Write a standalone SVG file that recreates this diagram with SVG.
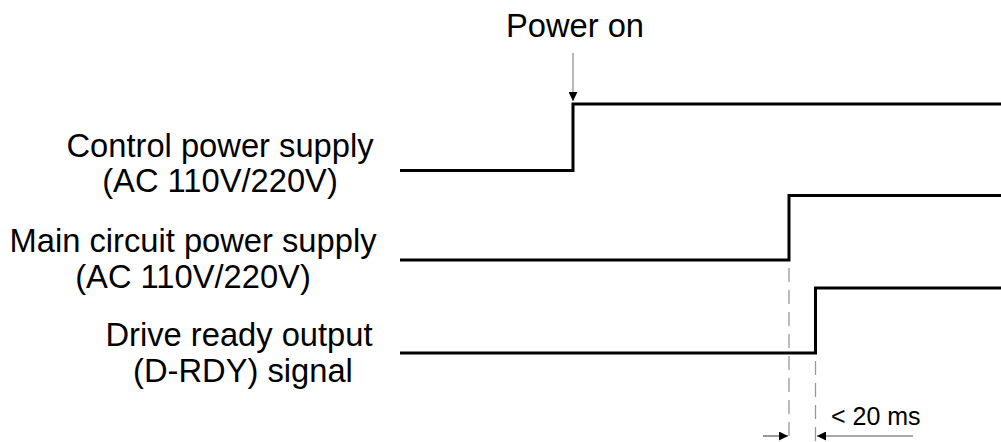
<svg xmlns="http://www.w3.org/2000/svg" width="1001" height="442" viewBox="0 0 1001 442">
<style>
.lbl{font-family:"Liberation Sans",Arial,sans-serif;font-size:32.7px;fill:#000;text-anchor:middle}
.sig{fill:none;stroke:#000;stroke-width:3;stroke-linejoin:miter}
.dash{stroke:#999;stroke-width:1.3;stroke-dasharray:14,8;fill:none}
.thin{stroke:#555;stroke-width:1.2;fill:none}
.small{font-family:"Liberation Sans",Arial,sans-serif;font-size:25px;fill:#000}
</style>
<defs>
<marker id="ah" viewBox="0 0 10 10" refX="10" refY="5" markerWidth="12" markerHeight="9" markerUnits="userSpaceOnUse" orient="auto">
<path d="M0,0 L10,5 L0,10 Z" fill="#000"/>
</marker>
</defs>
<rect width="1001" height="442" fill="#fff"/>
<g id="power-on">
<text class="lbl" x="575" y="37">Power on</text>
</g>
<g id="control-power">
<text class="lbl" x="220" y="157">Control power supply</text>
<text class="lbl" x="220" y="192">(AC 110V/220V)</text>
<path class="sig" d="M400,170.5 H573 V104 H1001"/>
</g>
<g id="main-power">
<text class="lbl" x="193" y="252">Main circuit power supply</text>
<text class="lbl" x="193" y="288">(AC 110V/220V)</text>
<path class="sig" d="M400,260 H789 V195.5 H1001"/>
</g>
<g id="drive-ready">
<text class="lbl" x="239" y="346">Drive ready output</text>
<text class="lbl" x="243" y="382">(D-RDY) signal</text>
<path class="sig" d="M400,353 H815.5 V288 H1001"/>
</g>
<g id="connectors">
<line x1="573" y1="53" x2="573" y2="101" stroke="#888" stroke-width="1.2" marker-end="url(#ah)"/>
<line class="dash" x1="789" y1="268" x2="789" y2="442"/>
<line class="dash" x1="815.5" y1="361" x2="815.5" y2="442"/>
<line class="thin" x1="763" y1="436" x2="788" y2="436" marker-end="url(#ah)"/>
<line class="thin" x1="913" y1="436" x2="817" y2="436" marker-end="url(#ah)"/>
<text class="small" x="831" y="425">&lt; 20 ms</text>
</g>
</svg>
